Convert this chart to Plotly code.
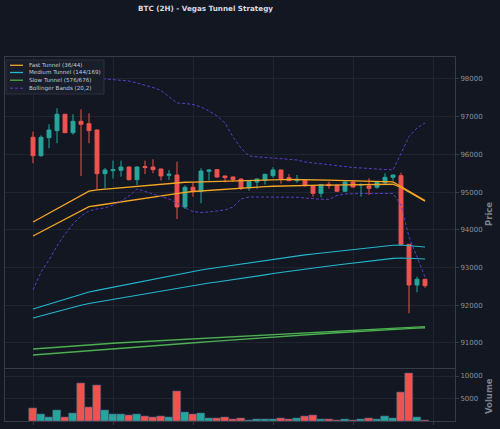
import plotly.graph_objects as go

# ---------------- data ----------------
idx = list(range(50))

opens = [96454, 95966, 96443, 96630, 97064, 96576, 96878, 96815, 96648, 95489,
         95570, 95579, 95666, 95330, 95680, 95666, 95613, 95446, 95454, 94606,
         95128, 95022, 95552, 95596, 95428, 95401, 95348, 95118, 95269, 95313,
         95436, 95587, 95383, 95304, 95313, 95163, 94969, 95207, 95181, 95022,
         95269, 95190, 95163, 95128, 95250, 95393, 95436, 93616, 92537, 92688]
highs = [96603, 96507, 96798, 97223, 97070, 97064, 97196, 97090, 96655, 95640,
         95834, 95834, 95680, 95680, 95834, 95870, 95620, 95587, 95807, 95181,
         95250, 95632, 95600, 95610, 95430, 95410, 95360, 95300, 95360, 95480,
         95658, 95590, 95481, 95454, 95320, 95190, 95210, 95277, 95190, 95280,
         95280, 95234, 95367, 95270, 95500, 95460, 95515, 93620, 92758, 92700]
lows = [95765, 95940, 96162, 96295, 96570, 96523, 95428, 96295, 95075, 95100,
        95357, 95410, 95310, 95190, 95481, 95500, 95304, 95322, 94287, 94553,
        94879, 94704, 95304, 95390, 95260, 95277, 95056, 95038, 95091, 95198,
        95383, 95224, 95290, 95250, 95150, 94879, 94860, 95091, 95010, 95010,
        95120, 94879, 94924, 95094, 95207, 95304, 93600, 91787, 92344, 92466]
closes = [95966, 96454, 96648, 97064, 96576, 96878, 96798, 96630, 95489, 95587,
          95595, 95666, 95330, 95666, 95650, 95596, 95428, 95473, 94606, 95128,
          95022, 95560, 95587, 95401, 95383, 95330, 95110, 95287, 95348, 95473,
          95587, 95357, 95304, 95340, 95171, 94969, 95198, 95171, 95022, 95269,
          95136, 95200, 95101, 95260, 95393, 95454, 93616, 92537, 92688, 92520]
volumes = [2733, 1400, 889, 2356, 800, 1778, 8444, 3111, 8000, 2356,
           1400, 1556, 1178, 1400, 1022, 733, 1022, 800, 6511, 2000,
           1400, 1778, 511, 667, 800, 289, 578, 222, 444, 289,
           444, 578, 444, 578, 1022, 1178, 356, 356, 133, 356,
           222, 444, 667, 356, 1022, 511, 6444, 10511, 889, 222]

ema36 = [94208, 94325, 94441, 94558, 94675, 94791, 94908, 95025, 95057, 95075,
         95094, 95115, 95136, 95155, 95176, 95194, 95216, 95234, 95255, 95261,
         95263, 95271, 95277, 95282, 95287, 95295, 95300, 95308, 95314, 95322,
         95327, 95332, 95335, 95335, 95330, 95322, 95319, 95316, 95314, 95308,
         95306, 95300, 95295, 95290, 95282, 95269, 95149, 95017, 94897, 94773]
ema44 = [93837, 93948, 94059, 94171, 94282, 94394, 94505, 94616, 94645, 94677,
         94712, 94744, 94778, 94810, 94844, 94876, 94911, 94940, 94969, 94993,
         95017, 95033, 95049, 95062, 95078, 95094, 95110, 95123, 95136, 95147,
         95155, 95163, 95171, 95176, 95181, 95184, 95186, 95188, 95189, 95192,
         95194, 95197, 95200, 95202, 95205, 95208, 95123, 95003, 94884, 94757]
ema144 = [91901, 91967, 92033, 92100, 92166, 92232, 92299, 92352, 92394, 92437,
          92479, 92521, 92564, 92606, 92649, 92691, 92733, 92776, 92816, 92856,
          92895, 92935, 92967, 92999, 93031, 93062, 93094, 93126, 93158, 93190,
          93221, 93253, 93282, 93312, 93335, 93359, 93383, 93407, 93431, 93455,
          93479, 93502, 93526, 93550, 93571, 93590, 93598, 93577, 93558, 93545]
ema169 = [91662, 91720, 91776, 91835, 91890, 91946, 92002, 92047, 92084, 92121,
          92158, 92195, 92232, 92269, 92304, 92341, 92378, 92415, 92450, 92487,
          92524, 92558, 92588, 92617, 92646, 92675, 92707, 92739, 92773, 92805,
          92840, 92871, 92903, 92935, 92962, 92988, 93015, 93041, 93068, 93094,
          93121, 93147, 93174, 93200, 93221, 93243, 93253, 93240, 93229, 93227]
ema576 = [90840, 90857, 90874, 90891, 90908, 90925, 90943, 90959, 90971, 90982,
          90994, 91006, 91017, 91028, 91040, 91052, 91063, 91075, 91086, 91098,
          91109, 91121, 91132, 91144, 91155, 91167, 91179, 91190, 91202, 91213,
          91225, 91235, 91246, 91256, 91267, 91278, 91288, 91299, 91310, 91320,
          91331, 91342, 91353, 91364, 91376, 91387, 91398, 91409, 91420, 91432]
ema676 = [90681, 90696, 90711, 90726, 90742, 90757, 90772, 90787, 90804, 90820,
          90837, 90853, 90870, 90886, 90902, 90919, 90936, 90952, 90969, 90985,
          91002, 91018, 91035, 91051, 91067, 91084, 91101, 91117, 91133, 91150,
          91166, 91180, 91193, 91206, 91219, 91233, 91246, 91259, 91272, 91286,
          91299, 91311, 91322, 91334, 91346, 91358, 91370, 91381, 91393, 91405]
bb_upper = [98100, 98150, 98250, 98350, 98400, 98350, 98250, 98150, 98050, 98000,
            97987, 97973, 97947, 97894, 97841, 97775, 97695, 97523, 97364, 97350,
            97324, 97258, 97151, 97019, 96833, 96462, 96170, 95958, 95932, 95918,
            95905, 95892, 95879, 95852, 95799, 95772, 95759, 95733, 95706, 95680,
            95653, 95640, 95627, 95613, 95600, 95587, 96024, 96475, 96701, 96833]
bb_lower = [92405, 92882, 93200, 93571, 93890, 94155, 94367, 94500, 94553, 94579,
            94659, 94765, 94897, 95083, 95017, 94950, 94884, 94818, 94712, 94579,
            94486, 94460, 94473, 94500, 94526, 94606, 94818, 94871, 94871, 94871,
            94871, 94871, 94871, 94863, 94844, 94818, 94810, 94810, 94911, 94950,
            94964, 94964, 94964, 94964, 94964, 94964, 94659, 93810, 93280, 92750]

price_ticks = [91000, 92000, 93000, 94000, 95000, 96000, 97000, 98000]
volume_ticks = [5000, 10000]
x_ticks = [0, 10, 20, 30, 40, 50]

legend_labels = ["Fast Tunnel (36/44)", "Medium Tunnel (144/169)",
                 "Slow Tunnel (576/676)", "Bollinger Bands (20,2)"]

# ---------------- styling ----------------
BG = "#131722"
UP = "#26a69a"
DOWN = "#ef5350"
C_FAST = "#f5a623"
C_MED = "#22b8cf"
C_SLOW = "#4caf50"
C_BB = "#5a3cc8"
GRID = "#1f2431"
AXLINE = "#363b48"
TXT = "#8b8f9a"
FONT = "DejaVu Sans"

fig = go.Figure()

fig.add_trace(go.Candlestick(
    x=idx, open=opens, high=highs, low=lows, close=closes,
    increasing=dict(line=dict(color=UP, width=1), fillcolor=UP),
    decreasing=dict(line=dict(color=DOWN, width=1), fillcolor=DOWN),
    xaxis="x", yaxis="y", showlegend=False, hoverinfo="skip"))

for series, col, w, dash in [
    (ema36, C_FAST, 1.3, "solid"), (ema44, C_FAST, 1.3, "solid"),
    (ema144, C_MED, 1.1, "solid"), (ema169, C_MED, 1.1, "solid"),
    (ema576, C_SLOW, 1.4, "solid"), (ema676, C_SLOW, 1.4, "solid"),
    (bb_upper, C_BB, 1.0, "3px,2px"), (bb_lower, C_BB, 1.0, "3px,2px")]:
    fig.add_trace(go.Scatter(x=idx, y=series, mode="lines",
                             line=dict(color=col, width=w, dash=dash),
                             xaxis="x", yaxis="y", showlegend=False,
                             hoverinfo="skip"))

bar_colors = [UP if c >= o else DOWN for o, c in zip(opens, closes)]
fig.add_trace(go.Bar(x=idx, y=volumes, marker=dict(color=bar_colors,
                     line=dict(color="#46507a", width=0.6)),
                     width=0.95, xaxis="x2", yaxis="y2", showlegend=False,
                     hoverinfo="skip"))

# ---------------- layout ----------------
W, H = 500, 429
ML, MR, MT, MB = 5, 45, 57, 8
PW, PH = W - ML - MR, H - MT - MB


def px_x(px):
    return (px - ML) / PW


def px_y(py):
    return (H - MB - py) / PH


main_dom = [px_y(368), 1.0]
vol_dom = [0.0, px_y(369.3)]

axis_common = dict(showline=True, mirror=True, linecolor=AXLINE, linewidth=1,
                   gridcolor=GRID, gridwidth=1, zeroline=False)

fig.update_layout(
    width=W, height=H,
    margin=dict(l=ML, r=MR, t=MT, b=MB),
    paper_bgcolor=BG, plot_bgcolor=BG,
    font=dict(family=FONT, size=7, color=TXT),
    showlegend=False,
    bargap=0,
    xaxis=dict(domain=[0, 1], anchor="y", range=[-3.5, 52.75],
               tickvals=x_ticks, showticklabels=False, ticks="",
               rangeslider=dict(visible=False), **axis_common),
    xaxis2=dict(domain=[0, 1], anchor="y2", matches="x", range=[-3.5, 52.75],
                tickvals=x_ticks, showticklabels=False, ticks="outside",
                ticklen=3, tickcolor=AXLINE, **axis_common),
    yaxis=dict(domain=main_dom, anchor="x", side="right",
               range=[90336, 98583], tickvals=price_ticks,
               ticktext=[str(v) for v in price_ticks],
               ticks="outside", ticklen=3, tickcolor=AXLINE,
               tickfont=dict(family=FONT, size=7, color=TXT), **axis_common),
    yaxis2=dict(domain=vol_dom, anchor="x2", side="right",
                range=[0, 11500], tickvals=volume_ticks,
                ticktext=[str(v) for v in volume_ticks],
                ticks="outside", ticklen=3, tickcolor=AXLINE,
                tickfont=dict(family=FONT, size=7, color=TXT), **axis_common),
)

annotations = [
    dict(text="<b>BTC (2H) - Vegas Tunnel Strategy</b>", xref="paper", yref="paper",
         x=px_x(205), y=px_y(8.5), xanchor="center", yanchor="middle",
         showarrow=False, font=dict(family=FONT, size=7.2, color="#d6d9e0")),
    dict(text="<b>Price</b>", xref="paper", yref="paper", x=px_x(489), y=px_y(214),
         xanchor="center", yanchor="middle", textangle=-90, showarrow=False,
         font=dict(family=FONT, size=8.5, color="#7d818c")),
    dict(text="<b>Volume</b>", xref="paper", yref="paper", x=px_x(489), y=px_y(396),
         xanchor="center", yanchor="middle", textangle=-90, showarrow=False,
         font=dict(family=FONT, size=8.5, color="#7d818c")),
]

shapes = [dict(type="rect", xref="paper", yref="paper",
               x0=px_x(6), x1=px_x(104), y0=px_y(94), y1=px_y(60),
               fillcolor="#1a1e2a", line=dict(color="#2c303c", width=1),
               layer="above")]

legend_styles = [(C_FAST, "solid", 1.3), (C_MED, "solid", 1.3),
                 (C_SLOW, "solid", 1.3), (C_BB, "3px,2px", 1.0)]
legend_rows = [65.3, 72.5, 80.2, 88.2]
for lab, (col, dash, w), ry in zip(legend_labels, legend_styles, legend_rows):
    shapes.append(dict(type="line", xref="paper", yref="paper",
                       x0=px_x(10), x1=px_x(23), y0=px_y(ry), y1=px_y(ry),
                       line=dict(color=col, width=w, dash=dash), layer="above"))
    annotations.append(dict(text=lab, xref="paper", yref="paper",
                            x=px_x(26.5), y=px_y(ry), xanchor="left",
                            yanchor="middle", showarrow=False,
                            font=dict(family=FONT, size=5.6, color="#c4c8d0")))

fig.update_layout(annotations=annotations, shapes=shapes)

fig.write_html("out.html")
